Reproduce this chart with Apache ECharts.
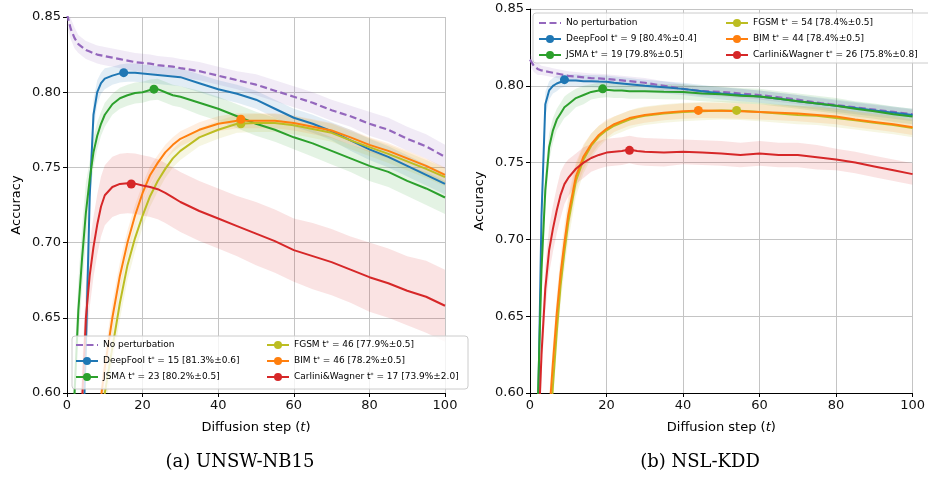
<!DOCTYPE html>
<html>
<head>
<meta charset="utf-8">
<script src="https://cdn.jsdelivr.net/npm/echarts@6/dist/echarts.min.js"></script>
<style>html,body{margin:0;padding:0;background:#fff;}#c{width:928px;height:477px;}</style>
</head>
<body>
<div id="c"></div>
<script>
// ---------------- DATA ----------------
const steps = [0,1,2,3,4,5,6,7,8,9,10, 12,14,16,18,20,22,24,26,28,30, 35,40,45,50,55,60,65,70,75,80,85,90,95,100];
const xTicks = [0,20,40,60,80,100];
const yTicks = [0.60,0.65,0.70,0.75,0.80,0.85];
const captions = ['(a) UNSW-NB15', '(b) NSL-KDD'];
const seriesNames = ['No perturbation','DeepFool','JSMA','FGSM','BIM','Carlini&Wagner'];
const attackNames = ['DeepFool','JSMA','FGSM','BIM','Carlini&Wagner'];

// UNSW-NB15
const unswNoPert   = [0.852,0.842,0.836,0.832,0.830,0.828,0.827,0.826,0.825,0.8245,0.824, 0.823,0.822,0.821,0.820,0.8195,0.819,0.818,0.8175,0.817,0.816, 0.814,0.811,0.808,0.805,0.801,0.797,0.793,0.788,0.784,0.779,0.775,0.769,0.764,0.757];
const unswDeepFool = [0.30,0.35,0.40,0.47,0.55,0.63,0.73,0.785,0.800,0.806,0.809, 0.811,0.8125,0.813,0.813,0.8125,0.812,0.8115,0.811,0.8105,0.810, 0.806,0.802,0.799,0.795,0.789,0.783,0.779,0.774,0.768,0.762,0.757,0.751,0.745,0.739];
const unswJSMA     = [0.45,0.55,0.60,0.655,0.69,0.72,0.742,0.760,0.771,0.779,0.785, 0.792,0.796,0.798,0.7995,0.800,0.8015,0.802,0.800,0.798,0.797, 0.793,0.789,0.784,0.779,0.775,0.770,0.766,0.761,0.756,0.751,0.747,0.741,0.736,0.730];
const unswFGSM     = [0.28,0.31,0.34,0.37,0.41,0.45,0.49,0.52,0.55,0.578,0.600, 0.630,0.660,0.685,0.703,0.718,0.731,0.741,0.749,0.756,0.761, 0.770,0.775,0.779,0.7795,0.7795,0.778,0.7755,0.773,0.768,0.7635,0.759,0.754,0.749,0.7435];
const unswBIM      = [0.30,0.33,0.36,0.40,0.44,0.48,0.52,0.55,0.575,0.597,0.617, 0.650,0.678,0.700,0.718,0.733,0.745,0.753,0.760,0.765,0.769, 0.775,0.779,0.781,0.781,0.781,0.7795,0.777,0.7745,0.770,0.765,0.761,0.756,0.751,0.745];
const unswCW       = [0.40,0.45,0.50,0.55,0.595,0.65,0.678,0.697,0.712,0.724,0.7315, 0.737,0.739,0.7395,0.7392,0.738,0.737,0.7355,0.733,0.730,0.727, 0.721,0.716,0.711,0.706,0.701,0.695,0.691,0.687,0.682,0.677,0.673,0.668,0.664,0.658];

const unswNoPertStd   = [0.008,0.007,0.007,0.006,0.006,0.006,0.006,0.006,0.006,0.006,0.006, 0.006,0.006,0.006,0.006,0.006,0.006,0.006,0.006,0.006,0.006, 0.006,0.006,0.006,0.007,0.007,0.007,0.007,0.007,0.007,0.008,0.008,0.008,0.008,0.008];
const unswDeepFoolStd = [0.020,0.020,0.020,0.020,0.020,0.020,0.015,0.010,0.008,0.007,0.007, 0.006,0.006,0.006,0.006,0.006,0.006,0.006,0.006,0.006,0.006, 0.006,0.006,0.006,0.006,0.006,0.006,0.006,0.006,0.007,0.007,0.007,0.007,0.007,0.007];
const unswJSMAStd     = [0.020,0.020,0.020,0.020,0.020,0.020,0.012,0.010,0.009,0.008,0.008, 0.007,0.007,0.007,0.007,0.007,0.007,0.007,0.007,0.007,0.007, 0.008,0.008,0.008,0.008,0.008,0.008,0.009,0.009,0.009,0.010,0.010,0.010,0.011,0.011];
const unswFGSMStd     = [0.012,0.012,0.012,0.012,0.012,0.012,0.012,0.012,0.012,0.012,0.012, 0.012,0.011,0.010,0.009,0.008,0.007,0.007,0.006,0.006,0.006, 0.006,0.006,0.006,0.006,0.006,0.006,0.006,0.006,0.006,0.006,0.006,0.006,0.006,0.006];
const unswBIMStd      = [0.010,0.010,0.010,0.010,0.010,0.010,0.010,0.010,0.010,0.010,0.010, 0.010,0.009,0.008,0.007,0.006,0.006,0.005,0.005,0.005,0.005, 0.005,0.005,0.005,0.005,0.005,0.005,0.005,0.005,0.005,0.005,0.005,0.005,0.005,0.005];
const unswCWStd       = [0.025,0.025,0.025,0.025,0.025,0.022,0.021,0.020,0.020,0.020,0.020, 0.020,0.020,0.020,0.020,0.020,0.020,0.020,0.020,0.020,0.020, 0.020,0.020,0.020,0.021,0.021,0.021,0.022,0.022,0.022,0.023,0.023,0.023,0.024,0.024];

const unswPeakStep = [15, 23, 46, 46, 17];
const unswPeakAcc  = [81.3, 80.2, 77.9, 78.2, 73.9];
const unswPeakStd  = [0.6, 0.5, 0.5, 0.5, 2.0];

// NSL-KDD
const nslNoPert   = [0.817,0.813,0.811,0.810,0.8095,0.809,0.8085,0.808,0.8075,0.807,0.8065, 0.806,0.8055,0.805,0.8048,0.8045,0.804,0.8035,0.803,0.8025,0.802, 0.800,0.798,0.7965,0.796,0.795,0.794,0.7925,0.791,0.789,0.7875,0.786,0.7845,0.783,0.7815];
const nslDeepFool = [0.30,0.40,0.57,0.715,0.788,0.797,0.800,0.8015,0.8025,0.8033,0.8035, 0.8035,0.803,0.803,0.8028,0.8027,0.802,0.8015,0.801,0.8005,0.800, 0.799,0.798,0.7965,0.795,0.794,0.793,0.7915,0.790,0.7885,0.787,0.7855,0.784,0.7825,0.781];
const nslJSMA     = [0.30,0.42,0.59,0.68,0.732,0.760,0.771,0.778,0.782,0.786,0.788, 0.792,0.794,0.796,0.797,0.7975,0.797,0.797,0.7965,0.7965,0.7965, 0.7962,0.796,0.795,0.7945,0.7935,0.793,0.7915,0.790,0.7885,0.787,0.785,0.7835,0.7815,0.780];
const nslFGSM     = [0.28,0.34,0.40,0.46,0.52,0.565,0.605,0.640,0.670,0.692,0.711, 0.738,0.752,0.761,0.767,0.771,0.774,0.776,0.778,0.7795,0.7805, 0.782,0.783,0.7835,0.784,0.7838,0.783,0.782,0.781,0.7805,0.779,0.7775,0.776,0.7745,0.7725];
const nslBIM      = [0.30,0.36,0.42,0.48,0.54,0.585,0.620,0.652,0.678,0.698,0.716, 0.741,0.754,0.762,0.768,0.772,0.775,0.777,0.779,0.780,0.781, 0.7825,0.7835,0.784,0.7838,0.7835,0.783,0.7825,0.782,0.781,0.780,0.778,0.7765,0.775,0.773];
const nslCW       = [0.35,0.45,0.56,0.625,0.668,0.693,0.707,0.719,0.729,0.736,0.740, 0.746,0.750,0.753,0.755,0.7565,0.757,0.7575,0.7585,0.7575,0.757, 0.7565,0.757,0.7565,0.756,0.755,0.756,0.755,0.755,0.7535,0.752,0.750,0.7475,0.745,0.7425];

const nslNoPertStd   = [0.004,0.004,0.004,0.003,0.003,0.003,0.003,0.003,0.003,0.003,0.003, 0.003,0.003,0.003,0.003,0.003,0.003,0.003,0.003,0.003,0.003, 0.003,0.003,0.003,0.003,0.003,0.003,0.003,0.003,0.003,0.003,0.003,0.003,0.003,0.003];
const nslDeepFoolStd = [0.015,0.015,0.015,0.012,0.008,0.006,0.005,0.005,0.004,0.004,0.004, 0.004,0.004,0.004,0.004,0.004,0.004,0.004,0.004,0.004,0.004, 0.004,0.004,0.004,0.004,0.004,0.004,0.004,0.004,0.004,0.004,0.004,0.004,0.004,0.004];
const nslJSMAStd     = [0.020,0.020,0.020,0.015,0.012,0.009,0.008,0.007,0.007,0.007,0.007, 0.006,0.006,0.005,0.005,0.005,0.005,0.005,0.005,0.005,0.005, 0.005,0.005,0.005,0.005,0.005,0.005,0.005,0.005,0.005,0.005,0.005,0.005,0.005,0.005];
const nslFGSMStd     = [0.012,0.012,0.012,0.012,0.012,0.012,0.012,0.012,0.012,0.012,0.012, 0.010,0.009,0.008,0.007,0.006,0.006,0.006,0.006,0.006,0.006, 0.006,0.006,0.006,0.006,0.006,0.006,0.006,0.006,0.006,0.006,0.006,0.006,0.006,0.006];
const nslBIMStd      = [0.012,0.012,0.012,0.012,0.012,0.012,0.012,0.012,0.012,0.012,0.012, 0.009,0.008,0.007,0.006,0.006,0.005,0.005,0.005,0.005,0.005, 0.005,0.005,0.005,0.005,0.005,0.005,0.005,0.005,0.005,0.005,0.005,0.005,0.005,0.005];
const nslCWStd       = [0.015,0.015,0.015,0.015,0.015,0.015,0.015,0.015,0.015,0.013,0.012, 0.010,0.010,0.009,0.009,0.009,0.009,0.009,0.009,0.009,0.009, 0.009,0.008,0.008,0.008,0.008,0.008,0.008,0.008,0.008,0.007,0.007,0.007,0.007,0.007];

const nslPeakStep = [9, 19, 54, 44, 26];
const nslPeakAcc  = [80.4, 79.8, 78.4, 78.4, 75.8];
const nslPeakStd  = [0.4, 0.5, 0.5, 0.5, 0.8];

// ---------------- STYLE ----------------
const colors = {
  'No perturbation': '#9467bd', 'DeepFool': '#1f77b4', 'JSMA': '#2ca02c',
  'FGSM': '#bcbd22', 'BIM': '#ff7f0e', 'Carlini&Wagner': '#d62728'
};
const FONT = 'DejaVu Sans';

const panels = [
  { grid: {left: 67, top: 17, width: 378, height: 376},
    means: [unswNoPert, unswDeepFool, unswJSMA, unswFGSM, unswBIM, unswCW],
    stds: [unswNoPertStd, unswDeepFoolStd, unswJSMAStd, unswFGSMStd, unswBIMStd, unswCWStd],
    peakStep: unswPeakStep, peakAcc: unswPeakAcc, peakStd: unswPeakStd,
    legendPos: [[75, 340], [266, 340]], legendBox: [72, 336, 396, 53],
    captionX: 240 },
  { grid: {left: 530, top: 9, width: 383, height: 384},
    means: [nslNoPert, nslDeepFool, nslJSMA, nslFGSM, nslBIM, nslCW],
    stds: [nslNoPertStd, nslDeepFoolStd, nslJSMAStd, nslFGSMStd, nslBIMStd, nslCWStd],
    peakStep: nslPeakStep, peakAcc: nslPeakAcc, peakStd: nslPeakStd,
    legendPos: [[538, 18], [725, 18]], legendBox: [533, 13, 430, 50],
    captionX: 700 }
];

const grids = [], xAxes = [], yAxes = [], series = [], legends = [], graphics = [];

panels.forEach((p, pi) => {
  grids.push(p.grid);
  xAxes.push({
    type: 'value', gridIndex: pi, min: xTicks[0], max: xTicks[xTicks.length - 1], interval: xTicks[1] - xTicks[0],
    name: 'Diffusion step ({it|t})', nameLocation: 'middle', nameGap: 28,
    nameTextStyle: {fontFamily: FONT, fontSize: 13, color: '#000', rich: {it: {fontFamily: FONT, fontSize: 13, fontStyle: 'italic', color: '#000'}}},
    axisLine: {show: true, onZero: false, lineStyle: {color: '#000', width: 1}},
    axisTick: {show: true, length: 4, lineStyle: {color: '#000'}},
    axisLabel: {fontFamily: FONT, fontSize: 13, color: '#111', margin: 6},
    splitLine: {show: true, lineStyle: {color: '#c4c4c4', width: 1}}
  });
  yAxes.push({
    type: 'value', gridIndex: pi, min: yTicks[0], max: yTicks[yTicks.length - 1], interval: 0.05,
    name: 'Accuracy', nameLocation: 'middle', nameGap: 44,
    nameTextStyle: {fontFamily: FONT, fontSize: 13, color: '#000'},
    axisLine: {show: true, onZero: false, lineStyle: {color: '#000', width: 1}},
    axisTick: {show: true, length: 4, lineStyle: {color: '#000'}},
    axisLabel: {fontFamily: FONT, fontSize: 13, color: '#111', margin: 6, formatter: v => v.toFixed(2)},
    splitLine: {show: true, lineStyle: {color: '#c4c4c4', width: 1}}
  });

  // shaded bands (mean ± std), drawn as one clipped polygon through the axis scales
  seriesNames.forEach((nm, k) => {
    const m = p.means[k], s = p.stds[k];
    series.push({
      type: 'custom', name: 'band-' + k, xAxisIndex: pi, yAxisIndex: pi, silent: true, z: 1,
      data: [[steps[0], m[0]]],
      renderItem: (params, api) => {
        const upper = steps.map((t, j) => api.coord([t, m[j] + s[j]]));
        const lower = steps.map((t, j) => api.coord([t, m[j] - s[j]])).reverse();
        const cs = params.coordSys;
        return {
          type: 'polygon',
          shape: {points: upper.concat(lower)},
          style: {fill: colors[nm], opacity: 0.13},
          clipPath: {type: 'rect', shape: {x: cs.x, y: cs.y, width: cs.width, height: cs.height}}
        };
      }
    });
  });
  // mean lines
  seriesNames.forEach((nm, k) => {
    const m = p.means[k];
    const isBase = k === 0;
    series.push({
      type: 'line', name: nm, xAxisIndex: pi, yAxisIndex: pi,
      data: steps.map((t, j) => [t, m[j]]),
      symbol: isBase ? 'none' : 'circle', showSymbol: false, symbolSize: 9,
      color: colors[nm],
      lineStyle: {color: colors[nm], width: isBase ? 2.2 : 2, type: isBase ? [7, 3.5] : 'solid'},
      itemStyle: {color: colors[nm]}, z: 3
    });
  });
  // peak markers (t*)
  attackNames.forEach((nm, k) => {
    series.push({
      type: 'scatter', name: 'peak-' + nm, xAxisIndex: pi, yAxisIndex: pi,
      data: [[p.peakStep[k], p.peakAcc[k] / 100]], symbol: 'circle', symbolSize: 9,
      itemStyle: {color: colors[nm], opacity: 1}, z: 5, silent: true
    });
  });

  // legend labels
  const labelOf = (name) => {
    const k = attackNames.indexOf(name);
    if (k < 0) return name;
    return name + ' t{s|*} = ' + p.peakStep[k] + ' [' + p.peakAcc[k].toFixed(1) + '%\u00b1' + p.peakStd[k].toFixed(1) + ']';
  };
  const cols = [seriesNames.slice(0, 3), seriesNames.slice(3, 6)];
  cols.forEach((col, ci) => {
    legends.push({
      data: col.map(n => n === 'No perturbation' ? {name: n, itemStyle: {opacity: 0}} : {name: n}),
      orient: 'vertical', left: p.legendPos[ci][0], top: p.legendPos[ci][1],
      padding: 0, itemGap: 6, itemWidth: 22, itemHeight: 10, selectedMode: false, z: 20,
      formatter: labelOf,
      textStyle: {fontFamily: FONT, fontSize: 9, color: '#000', lineHeight: 10,
        rich: {s: {fontFamily: FONT, fontSize: 6, color: '#000', verticalAlign: 'top', lineHeight: 10}}}
    });
  });
  const b = p.legendBox;
  graphics.push({
    type: 'rect', shape: {x: b[0], y: b[1], width: b[2], height: b[3], r: 3}, z: 15, silent: true,
    style: {fill: 'rgba(255,255,255,0.8)', stroke: '#cccccc', lineWidth: 1}
  });
  graphics.push({
    type: 'text', x: p.captionX, y: 462, z: 15, silent: true,
    style: {text: captions[pi], font: '18px "DejaVu Serif"', fill: '#000', textAlign: 'center', textVerticalAlign: 'middle'}
  });
});

const chart = echarts.init(document.getElementById('c'), null, {renderer: 'canvas'});
chart.setOption({
  animation: false,
  backgroundColor: '#fff',
  textStyle: {fontFamily: FONT},
  grid: grids, xAxis: xAxes, yAxis: yAxes, series: series, legend: legends, graphic: graphics
});
</script>
</body>
</html>
